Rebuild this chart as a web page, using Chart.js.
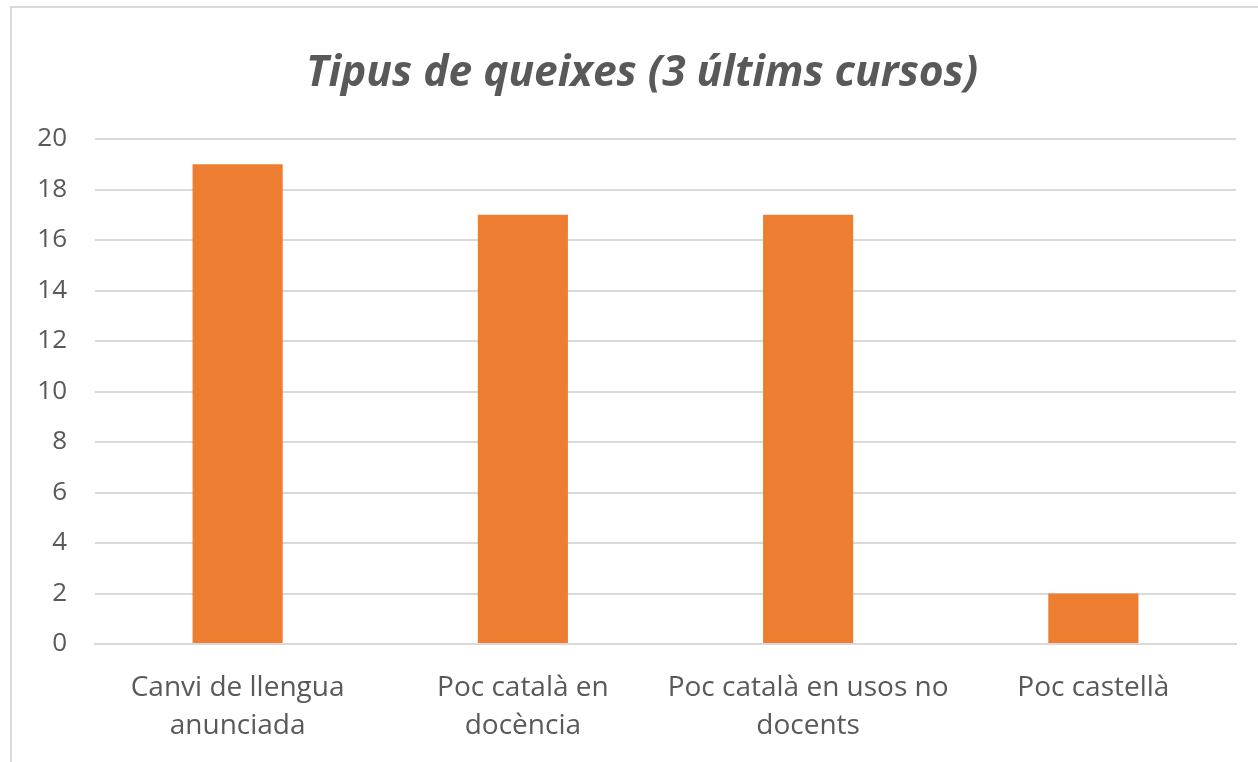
<!DOCTYPE html>
<html>
<head>
<meta charset="utf-8">
<script src="https://cdn.jsdelivr.net/npm/chart.js@4/dist/chart.umd.min.js"></script>
<style>
  body { margin: 0; background: #fff; }
  #frame { position: absolute; left: 10px; top: 6px; width: 1300px; height: 800px; border: 2px solid #d9d9d9; }
  #wrap { position: absolute; left: 0; top: 0; width: 1258px; height: 762px; }
</style>
</head>
<body>
<div id="frame"></div>
<div id="wrap"><canvas id="chart"></canvas></div>
<script>
const categories = [
  ["Canvi de llengua", "anunciada"],
  ["Poc català en", "docència"],
  ["Poc català en usos no", "docents"],
  "Poc castellà"
];
const complaints = [19, 17, 17, 2];
const yTicks = [0, 2, 4, 6, 8, 10, 12, 14, 16, 18, 20];

const textColor = "#595959";
const gridColor = "#d9d9d9";

// title is centred on the frame, not on the plot, so shift its box a bit
const shiftTitle = {
  id: "shiftTitle",
  afterLayout(chart) {
    chart.titleBlock.left += 48;
  }
};

new Chart(document.getElementById("chart"), {
  type: "bar",
  data: {
    labels: categories,
    datasets: [{
      data: complaints,
      backgroundColor: "#ed7d31",
      categoryPercentage: 1,
      barPercentage: 0.316
    }]
  },
  options: {
    responsive: true,
    maintainAspectRatio: false,
    animation: false,
    layout: { padding: { left: 0, right: 22, top: 0, bottom: 0 } },
    plugins: {
      legend: { display: false },
      tooltip: { enabled: false },
      title: {
        display: true,
        text: "Tipus de queixes (3 últims cursos)",
        color: textColor,
        font: { family: "Open Sans", size: 42.5, weight: "bold", style: "italic" },
        padding: { top: 48, bottom: 40 }
      }
    },
    scales: {
      x: {
        afterFit: axis => { axis.height = 118; },
        grid: { display: false, drawTicks: false },
        border: { display: true, color: gridColor, width: 2 },
        ticks: {
          color: textColor,
          font: { family: "Open Sans", size: 28, lineHeight: 1.36 },
          padding: 25,
          maxRotation: 0,
          autoSkip: false
        }
      },
      y: {
        min: 0,
        max: 20,
        afterBuildTicks: axis => { axis.ticks = yTicks.map(v => ({ value: v })); },
        afterFit: axis => { axis.width = 95; },
        grid: { color: gridColor, lineWidth: 2, drawTicks: false },
        border: { display: false },
        ticks: {
          color: textColor,
          font: { family: "Open Sans", size: 26 },
          padding: 28
        }
      }
    }
  },
  plugins: [shiftTitle]
});
</script>
</body>
</html>
